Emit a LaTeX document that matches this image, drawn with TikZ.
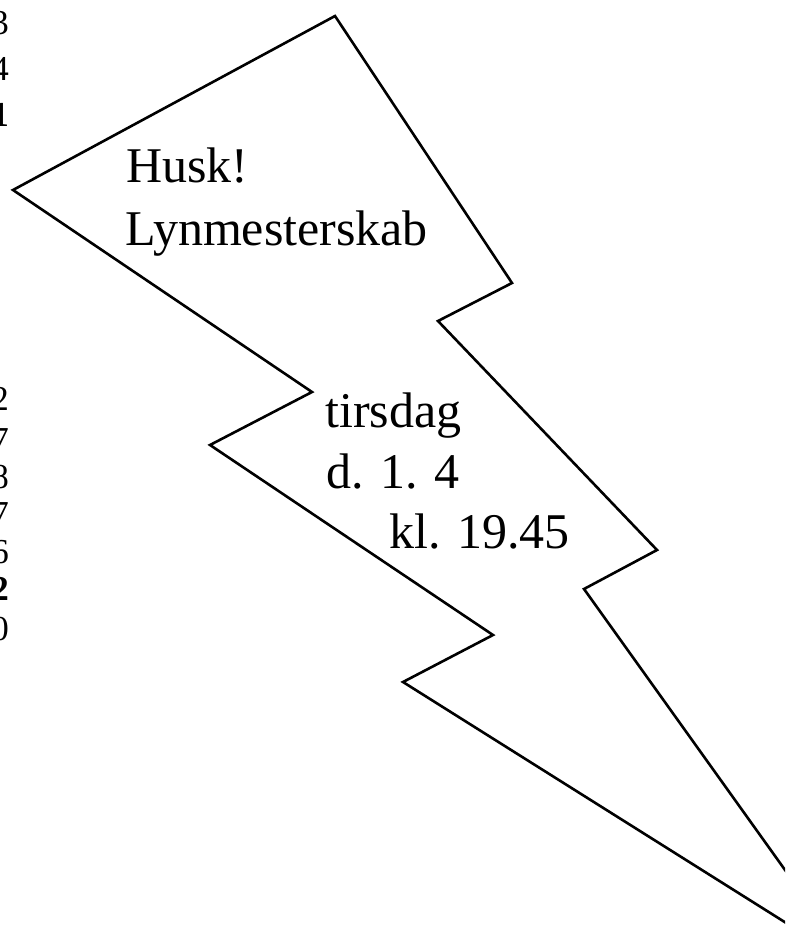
\documentclass[tikz,border=0pt]{standalone}
\usepackage{fontspec}
\setmainfont{Liberation Serif}
\begin{document}
\begin{tikzpicture}[x=1pt,y=-1pt,
  bolt/.style={draw=black,line width=2.6pt,line join=miter,fill=white},
  big/.style={font=\fontsize{50}{60}\selectfont,inner sep=0pt,anchor=base west},
  num/.style={font=\fontsize{35}{42}\selectfont,inner sep=0pt,anchor=base east},
  numb/.style={font=\fontsize{35}{42}\selectfont\bfseries,inner sep=0pt,anchor=base east}]
\useasboundingbox (0,0) rectangle (785,925);
\clip (0,0) rectangle (785,925);
\fill[white] (0,0) rectangle (785,925);
% lightning bolt
\coordinate (p1) at (335,16);
\coordinate (p2) at (512,283);
\coordinate (p3) at (438,321);
\coordinate (p4) at (657,550);
\coordinate (p5) at (584,589);
\coordinate (tip) at (853,965);
\coordinate (p7) at (403,682);
\coordinate (p8) at (493,635);
\coordinate (p9) at (210,445);
\coordinate (p10) at (312,392);
\coordinate (p11) at (13,190);
\draw[bolt] (p1) -- (p2) -- (p3) -- (p4) -- (p5) -- (tip) -- (p7) -- (p8) -- (p9) -- (p10) -- (p11) -- cycle;
% texts
\node[big] (husk) at (126,183) {Husk!};
\node[big] (lyn) at (125,245) {Lynmesterskab};
\node[big] (tirs) at (325,427) {tirsdag};
\node[big] (dato) at (326,488) {d. 1. 4};
\node[big] (kl) at (389,548) {kl. 19.45};
% cut-off numbers at left edge
\node[num] (a1) at (9,35) {3};
\node[num] (a2) at (9,81) {4};
\node[numb] (a3) at (9,127) {1};
\node[num] (b1) at (9,410) {2};
\node[num] (b2) at (9,451) {7};
\node[num] (b3) at (9,488) {8};
\node[num] (b4) at (9,525) {7};
\node[num] (b5) at (9,563) {6};
\node[numb] (b6) at (9,600) {2};
\node[num] (b7) at (9,640) {0};
\end{tikzpicture}
\end{document}
